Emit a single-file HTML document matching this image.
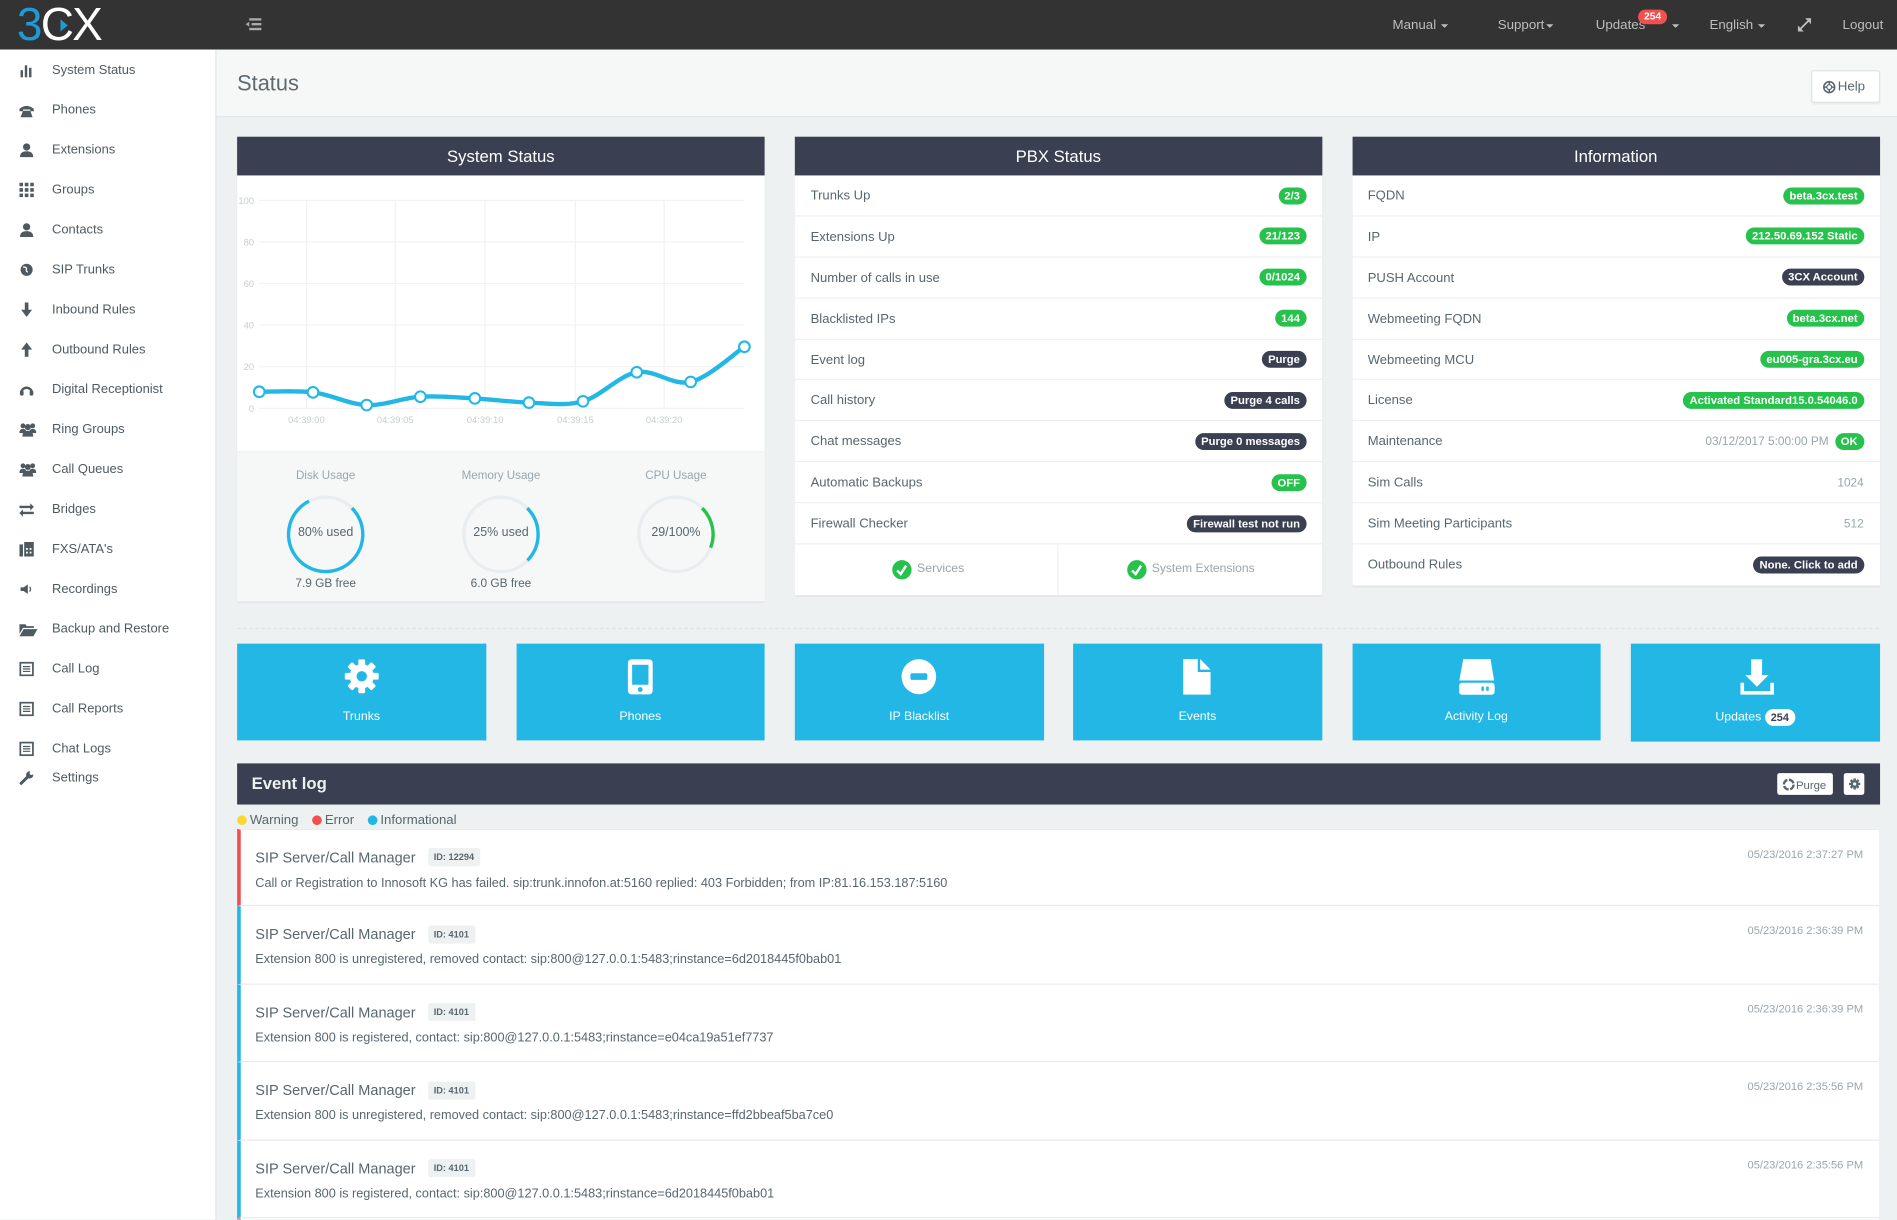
<!DOCTYPE html>
<html><head><meta charset="utf-8"><style>
*{box-sizing:border-box;margin:0;padding:0}
html,body{width:1897px;height:1220px;overflow:hidden;background:#edf1f2;font-family:"Liberation Sans",sans-serif;color:#58666e}
#w{position:absolute;left:0;top:0;width:1568px;height:1008px;transform:scale(1.209821);transform-origin:0 0;background:#edf1f2;overflow:hidden}
.a{position:absolute}
.nav{position:absolute;top:14px;font-size:11px;color:#bdbdbd;line-height:14px;white-space:nowrap}
.caret{display:inline-block;width:0;height:0;border-left:3.5px solid transparent;border-right:3.5px solid transparent;border-top:3.5px solid #bdbdbd;vertical-align:middle;margin-left:4px}
.si{position:absolute;left:43px;font-size:10.7px;color:#4f5a60;line-height:14px;white-space:nowrap}
.ic{position:absolute;left:16px;width:12px;height:12px}
.panel{position:absolute;background:#fff;box-shadow:0 1px 1px rgba(0,0,0,.07)}
.ph{height:32px;background:#3a3f51;color:#fff;font-size:13.8px;text-align:center;line-height:33px}
.row{position:relative;height:33.9px;border-bottom:1px solid #edf1f2;font-size:10.8px;line-height:35px;padding:0 13px;white-space:nowrap}
.bd{position:absolute;right:13px;top:9.5px;height:14px;line-height:14px;border-radius:7px;padding:0 5px;font-weight:bold;font-size:9.3px;color:#fff;background:#27c24c}
.dk{background:#3a3f51}
.gt{position:absolute;right:13px;top:0;font-size:9.8px;color:#98a6ad}
.tile{position:absolute;top:532px;height:80px;background:#23b7e5}
.tl{position:absolute;left:0;right:0;top:586px;text-align:center;color:#fff;font-size:10.2px;line-height:13px}
.ev{position:absolute;left:196px;width:1357px;height:64.5px;background:#fff;border-left:3px solid #23b7e5;border-bottom:1px solid #e6ebed}
.et{position:absolute;left:12px;top:16px;font-size:12px;line-height:14px;color:#58666e;white-space:nowrap}
.id{display:inline-block;margin-left:10px;background:#edf1f2;border-radius:2px;font-size:7.6px;font-weight:bold;padding:0 5px;height:15px;line-height:15px;vertical-align:middle;color:#58666e;position:relative;top:-1px}
.em{position:absolute;left:12px;top:37px;font-size:10.5px;line-height:14px;color:#58666e;white-space:nowrap}
.ed{position:absolute;right:13px;top:13px;font-size:9.2px;line-height:14px;color:#98a6ad}
.gl{position:absolute;font-size:9.6px;color:#98a6ad;text-align:center;width:120px;line-height:12px}
.gv{position:absolute;font-size:10.3px;color:#58666e;text-align:center;width:120px;line-height:12px}
</style></head><body><div id="w">

<!-- top bar -->
<div class="a" style="left:0;top:0;width:1568px;height:41px;background:#333"></div>
<div class="a" style="left:14px;top:2px;font-size:38px;line-height:38px;letter-spacing:-1.5px;white-space:nowrap"><span style="color:#1e9ad6">3</span><span style="color:#fff">CX</span></div>
<svg class="a" style="left:0;top:0" width="100" height="41"><polygon points="50,16 56,21 50,26" fill="#1e9ad6"/></svg>
<svg class="a" style="left:203px;top:15px" width="14" height="11"><rect x="3" y="0" width="10" height="2" fill="#aaa"/><rect x="5" y="4" width="8" height="2" fill="#aaa"/><rect x="3" y="8" width="10" height="2" fill="#aaa"/><polygon points="0,5 3,3 3,7" fill="#aaa"/></svg>
<div class="nav" style="left:1151px">Manual<span class="caret"></span></div>
<div class="nav" style="left:1238px">Support<span class="caret" style="margin-left:1px"></span></div>
<div class="nav" style="left:1319px">Updates</div>
<div class="a" style="left:1354px;top:8px;width:24px;height:11.5px;border-radius:6px;background:#f05050;color:#fff;font-size:8.5px;font-weight:bold;line-height:11.5px;text-align:center">254</div>
<div class="nav" style="left:1378px"><span class="caret"></span></div>
<div class="nav" style="left:1413px">English<span class="caret"></span></div>
<svg class="a" style="left:1486px;top:15px" width="11" height="11"><line x1="1.5" y1="9.5" x2="9.5" y2="1.5" stroke="#bdbdbd" stroke-width="1.5"/><polygon points="6,0 11,0 11,5" fill="#bdbdbd"/><polygon points="0,6 0,11 5,11" fill="#bdbdbd"/></svg>
<div class="nav" style="left:1523px">Logout</div>

<!-- sidebar -->
<div class="a" style="left:0;top:41px;width:179px;height:968px;background:#fff;border-right:1px solid #dee5e7"></div>
<div class="si" style="top:51px">System Status</div>
<svg class="ic" style="top:52px" viewBox="0 0 12 12" fill="#4f5a60"><rect x="1" y="6" width="2" height="6"/><rect x="4.5" y="2" width="2" height="10"/><rect x="8" y="4" width="2" height="8"/></svg>
<div class="si" style="top:84px">Phones</div>
<svg class="ic" style="top:85px" viewBox="0 0 12 12" fill="#4f5a60"><path d="M0 5Q6 0 12 5L12 7L9 7L9 5.5L3 5.5L3 7L0 7Z"/><path d="M3 6.5L9 6.5L11 12L1 12Z"/></svg>
<div class="si" style="top:117px">Extensions</div>
<svg class="ic" style="top:118px" viewBox="0 0 12 12" fill="#4f5a60"><circle cx="6" cy="3.5" r="3"/><path d="M0.5 12Q0.5 7 6 7Q11.5 7 11.5 12Z"/></svg>
<div class="si" style="top:150px">Groups</div>
<svg class="ic" style="top:151px" viewBox="0 0 12 12" fill="#4f5a60"><rect x="0" y="0" width="3" height="3"/><rect x="4.5" y="0" width="3" height="3"/><rect x="9" y="0" width="3" height="3"/><rect x="0" y="4.5" width="3" height="3"/><rect x="4.5" y="4.5" width="3" height="3"/><rect x="9" y="4.5" width="3" height="3"/><rect x="0" y="9" width="3" height="3"/><rect x="4.5" y="9" width="3" height="3"/><rect x="9" y="9" width="3" height="3"/></svg>
<div class="si" style="top:183px">Contacts</div>
<svg class="ic" style="top:184px" viewBox="0 0 12 12" fill="#4f5a60"><circle cx="6" cy="3.5" r="3"/><path d="M0.5 12Q0.5 7 6 7Q11.5 7 11.5 12Z"/></svg>
<div class="si" style="top:216px">SIP Trunks</div>
<svg class="ic" style="top:217px" viewBox="0 0 12 12" fill="#4f5a60"><circle cx="6" cy="6" r="5"/><path d="M3 4Q5 3 6 5Q5 7 7 8" stroke="#fff" stroke-width="1" fill="none"/></svg>
<div class="si" style="top:249px">Inbound Rules</div>
<svg class="ic" style="top:250px" viewBox="0 0 12 12" fill="#4f5a60"><path d="M4.5 0H7.5V6H10.5L6 12L1.5 6H4.5Z"/></svg>
<div class="si" style="top:282px">Outbound Rules</div>
<svg class="ic" style="top:283px" viewBox="0 0 12 12" fill="#4f5a60"><path d="M4.5 12H7.5V6H10.5L6 0L1.5 6H4.5Z"/></svg>
<div class="si" style="top:315px">Digital Receptionist</div>
<svg class="ic" style="top:316px" viewBox="0 0 12 12" fill="#4f5a60"><path d="M1.5 9A4.5 4.5 0 0 1 10.5 9" stroke="#4f5a60" stroke-width="2" fill="none"/><rect x="0.5" y="7" width="3" height="4" rx="1"/><rect x="8.5" y="7" width="3" height="4" rx="1"/></svg>
<div class="si" style="top:348px">Ring Groups</div>
<svg class="ic" style="top:349px;width:14px" viewBox="0 0 14 12" fill="#4f5a60"><circle cx="3" cy="3" r="2"/><circle cx="11" cy="3" r="2"/><circle cx="7" cy="4" r="2.5"/><path d="M0 9Q0 5.5 3 5.5Q6 5.5 6 9Z M8 9Q8 5.5 11 5.5Q14 5.5 14 9Z"/><path d="M2.5 12Q2.5 7 7 7Q11.5 7 11.5 12Z"/></svg>
<div class="si" style="top:381px">Call Queues</div>
<svg class="ic" style="top:382px;width:14px" viewBox="0 0 14 12" fill="#4f5a60"><circle cx="3" cy="3" r="2"/><circle cx="11" cy="3" r="2"/><circle cx="7" cy="4" r="2.5"/><path d="M0 9Q0 5.5 3 5.5Q6 5.5 6 9Z M8 9Q8 5.5 11 5.5Q14 5.5 14 9Z"/><path d="M2.5 12Q2.5 7 7 7Q11.5 7 11.5 12Z"/></svg>
<div class="si" style="top:414px">Bridges</div>
<svg class="ic" style="top:415px" viewBox="0 0 12 12" fill="#4f5a60"><path d="M0 3H9V1L12 4L9 7V5H0Z"/><path d="M12 8H3V6L0 9L3 12V10H12Z"/></svg>
<div class="si" style="top:447px">FXS/ATA's</div>
<svg class="ic" style="top:448px" viewBox="0 0 12 12" fill="#4f5a60"><rect x="0" y="2" width="3" height="10"/><rect x="4" y="0" width="8" height="12"/><rect x="5.5" y="5" width="1.5" height="1.5" fill="#fff"/><rect x="8.5" y="5" width="1.5" height="1.5" fill="#fff"/><rect x="5.5" y="8" width="1.5" height="1.5" fill="#fff"/><rect x="8.5" y="8" width="1.5" height="1.5" fill="#fff"/></svg>
<div class="si" style="top:480px">Recordings</div>
<svg class="ic" style="top:481px" viewBox="0 0 12 12" fill="#4f5a60"><path d="M1 4.5H3.5L7 2V10L3.5 7.5H1Z"/><path d="M8.5 4Q10 6 8.5 8" stroke="#4f5a60" fill="none"/></svg>
<div class="si" style="top:513px">Backup and Restore</div>
<svg class="ic" style="top:514px;width:15px" viewBox="0 0 15 12" fill="#4f5a60"><path d="M0 2H5L6 3.5H12V5H3L0 10Z"/><path d="M3.5 6H15L11.5 12H0Z"/></svg>
<div class="si" style="top:546px">Call Log</div>
<svg class="ic" style="top:547px" viewBox="0 0 12 12"><rect x="0.75" y="0.75" width="10.5" height="10.5" fill="none" stroke="#4f5a60" stroke-width="1.5"/><path d="M3 4H9M3 6H9M3 8H9" stroke="#4f5a60" stroke-width="1"/></svg>
<div class="si" style="top:579px">Call Reports</div>
<svg class="ic" style="top:580px" viewBox="0 0 12 12"><rect x="0.75" y="0.75" width="10.5" height="10.5" fill="none" stroke="#4f5a60" stroke-width="1.5"/><path d="M3 4H9M3 6H9M3 8H9" stroke="#4f5a60" stroke-width="1"/></svg>
<div class="si" style="top:612px">Chat Logs</div>
<svg class="ic" style="top:613px" viewBox="0 0 12 12"><rect x="0.75" y="0.75" width="10.5" height="10.5" fill="none" stroke="#4f5a60" stroke-width="1.5"/><path d="M3 4H9M3 6H9M3 8H9" stroke="#4f5a60" stroke-width="1"/></svg>
<div class="si" style="top:636px">Settings</div>
<svg class="ic" style="top:637px" viewBox="0 0 12 12"><path d="M1.5 10.5L7 5" stroke="#4f5a60" stroke-width="2.5" stroke-linecap="round"/><circle cx="8.5" cy="3.5" r="3" fill="#4f5a60"/><circle cx="10" cy="2" r="1.5" fill="#fff"/></svg>

<!-- page header -->
<div class="a" style="left:179px;top:41px;width:1389px;height:55.5px;background:#f6f8f8;border-bottom:1px solid #dee5e7"></div>
<div class="a" style="left:196px;top:58px;font-size:18px;line-height:22px;color:#5e6a70">Status</div>
<div class="a" style="left:1496.5px;top:58px;width:57px;height:27px;background:#fff;border:1px solid #dee5e7;border-radius:2px;box-shadow:0 1px 1px rgba(0,0,0,.05)"></div>
<svg class="a" style="left:1506px;top:66px" width="12" height="12"><circle cx="6" cy="6" r="4.5" fill="none" stroke="#58666e" stroke-width="1.3"/><circle cx="6" cy="6" r="2" fill="none" stroke="#58666e" stroke-width="1"/><path d="M6 1.5V4M6 8V10.5M1.5 6H4M8 6H10.5" stroke="#58666e" stroke-width="1.2"/></svg>
<div class="a" style="left:1519px;top:66px;font-size:11px;line-height:13px;color:#58666e">Help</div>

<!-- System Status panel -->
<div class="panel" style="left:196px;top:113px;width:436px;height:384px">
  <div class="ph">System Status</div>
  <div class="a" style="left:0;top:259.5px;width:436px;height:124.5px;background:#f6f8f8;border-top:1px solid #edf1f2"></div>
</div>
<svg class="a" style="left:196px;top:145px" width="436" height="227" viewBox="196 145 436 227">
  <g stroke="#f0f2f3" stroke-width="1">
    <line x1="214" y1="165.6" x2="615.5" y2="165.6"/><line x1="214" y1="200" x2="615.5" y2="200"/><line x1="214" y1="234.4" x2="615.5" y2="234.4"/><line x1="214" y1="268.7" x2="615.5" y2="268.7"/><line x1="214" y1="303.1" x2="615.5" y2="303.1"/><line x1="214" y1="337.5" x2="615.5" y2="337.5"/>
    <line x1="253.3" y1="165.6" x2="253.3" y2="337.5"/><line x1="326.7" y1="165.6" x2="326.7" y2="337.5"/><line x1="401" y1="165.6" x2="401" y2="337.5"/><line x1="475.6" y1="165.6" x2="475.6" y2="337.5"/><line x1="549" y1="165.6" x2="549" y2="337.5"/>
  </g>
  <g font-family="Liberation Sans, sans-serif" font-size="7.8" fill="#c6cdd0" text-anchor="end">
    <text x="210" y="168.5">100</text><text x="210" y="202.9">80</text><text x="210" y="237.3">60</text><text x="210" y="271.6">40</text><text x="210" y="306">20</text><text x="210" y="340.4">0</text>
  </g>
  <g font-family="Liberation Sans, sans-serif" font-size="7.8" fill="#c6cdd0" text-anchor="middle">
    <text x="253.3" y="349.5">04:39:00</text><text x="326.7" y="349.5">04:39:05</text><text x="401" y="349.5">04:39:10</text><text x="475.6" y="349.5">04:39:15</text><text x="549" y="349.5">04:39:20</text>
  </g>
  <path d="M214.3 323.8C221.7 323.9 243.9 322.5 258.7 324.3C273.5 326.1 288.3 334.2 303.1 334.8C317.9 335.4 332.6 328.8 347.5 327.9C362.4 327 377.5 328.5 392.5 329.3C407.5 330.1 422.3 332.4 437.2 332.8C452.1 333.2 467 335.9 481.9 331.7C496.8 327.5 511.5 310.4 526.3 307.7C541.1 305 556.1 319.2 570.9 315.7C585.7 312.2 607.9 291.5 615.3 286.6" fill="none" stroke="#23b7e5" stroke-width="3.6" stroke-linejoin="round"/>
  <g fill="#fff" stroke="#23b7e5" stroke-width="1.7">
    <circle cx="214.3" cy="323.8" r="4.4"/><circle cx="258.7" cy="324.3" r="4.4"/><circle cx="303.1" cy="334.8" r="4.4"/><circle cx="347.5" cy="327.9" r="4.4"/><circle cx="392.5" cy="329.3" r="4.4"/><circle cx="437.2" cy="332.8" r="4.4"/><circle cx="481.9" cy="331.7" r="4.4"/><circle cx="526.3" cy="307.7" r="4.4"/><circle cx="570.9" cy="315.7" r="4.4"/><circle cx="615.3" cy="286.6" r="4.4"/>
  </g>
</svg>
<svg class="a" style="left:196px;top:373px" width="436" height="124" viewBox="196 373 436 124">
  <g fill="none" stroke="#e8eef0" stroke-width="2.8">
    <circle cx="269.2" cy="441.7" r="30.7"/><circle cx="414.1" cy="441.7" r="30.7"/><circle cx="558.7" cy="441.7" r="30.7"/>
  </g>
  <path d="M290.9 420 A30.7 30.7 0 1 1 255.45 414.25" fill="none" stroke="#23b7e5" stroke-width="2.8"/>
  <path d="M435.8 420 A30.7 30.7 0 0 1 436 463.2" fill="none" stroke="#23b7e5" stroke-width="2.8"/>
  <path d="M580.4 420 A30.7 30.7 0 0 1 587.4 452.7" fill="none" stroke="#27c24c" stroke-width="2.8"/>
</svg>
<div class="gl" style="left:209.2px;top:388px">Disk Usage</div>
<div class="gl" style="left:354.1px;top:388px">Memory Usage</div>
<div class="gl" style="left:498.7px;top:388px">CPU Usage</div>
<div class="gv" style="left:209.2px;top:435px">80% used</div>
<div class="gv" style="left:354.1px;top:435px">25% used</div>
<div class="gv" style="left:498.7px;top:435px">29/100%</div>
<div class="gv" style="left:209.2px;top:477px;font-size:9.8px">7.9 GB free</div>
<div class="gv" style="left:354.1px;top:477px;font-size:9.8px">6.0 GB free</div>

<!-- PBX Status panel -->
<div class="panel" style="left:657px;top:113px;width:435.5px;height:378.5px">
  <div class="ph">PBX Status</div>
  <div class="row">Trunks Up<span class="bd">2/3</span></div>
  <div class="row">Extensions Up<span class="bd">21/123</span></div>
  <div class="row">Number of calls in use<span class="bd">0/1024</span></div>
  <div class="row">Blacklisted IPs<span class="bd">144</span></div>
  <div class="row">Event log<span class="bd dk">Purge</span></div>
  <div class="row">Call history<span class="bd dk">Purge 4 calls</span></div>
  <div class="row">Chat messages<span class="bd dk">Purge 0 messages</span></div>
  <div class="row">Automatic Backups<span class="bd">OFF</span></div>
  <div class="row">Firewall Checker<span class="bd dk">Firewall test not run</span></div>
  <div class="a" style="left:216.5px;top:337px;width:1px;height:41.5px;background:#edf1f2"></div>
</div>
<svg class="a" style="left:736px;top:462px" width="220" height="18">
  <circle cx="9.5" cy="9" r="8" fill="#27c24c"/><path d="M5.5 9.5L8.5 12.5L13 5.5" stroke="#fff" stroke-width="2" fill="none"/>
  <circle cx="203.7" cy="9" r="8" fill="#27c24c"/><path d="M199.7 9.5L202.7 12.5L207.2 5.5" stroke="#fff" stroke-width="2" fill="none"/>
</svg>
<div class="a" style="left:758px;top:464px;font-size:10.2px;line-height:13px;color:#98a6ad">Services</div>
<div class="a" style="left:952px;top:464px;font-size:10px;line-height:13px;color:#98a6ad">System Extensions</div>

<!-- Information panel -->
<div class="panel" style="left:1117.5px;top:113px;width:436px;height:371px">
  <div class="ph">Information</div>
  <div class="row">FQDN<span class="bd">beta.3cx.test</span></div>
  <div class="row">IP<span class="bd">212.50.69.152 Static</span></div>
  <div class="row">PUSH Account<span class="bd dk">3CX Account</span></div>
  <div class="row">Webmeeting FQDN<span class="bd">beta.3cx.net</span></div>
  <div class="row">Webmeeting MCU<span class="bd">eu005-gra.3cx.eu</span></div>
  <div class="row">License<span class="bd">Activated Standard15.0.54046.0</span></div>
  <div class="row">Maintenance<span class="gt" style="right:42px">03/12/2017 5:00:00 PM</span><span class="bd">OK</span></div>
  <div class="row">Sim Calls<span class="gt">1024</span></div>
  <div class="row">Sim Meeting Participants<span class="gt">512</span></div>
  <div class="row" style="border-bottom:none">Outbound Rules<span class="bd dk">None. Click to add</span></div>
</div>

<!-- dashed separator -->
<div class="a" style="left:196px;top:519px;width:1357px;height:0;border-top:1px dashed #dce3e5"></div>

<!-- tiles -->
<div class="tile" style="left:196px;width:205.5px"><div class="tl" style="top:54px">Trunks</div></div>
<div class="tile" style="left:426.5px;width:205.5px"><div class="tl" style="top:54px">Phones</div></div>
<div class="tile" style="left:657px;width:205.5px"><div class="tl" style="top:54px">IP Blacklist</div></div>
<div class="tile" style="left:887px;width:205.5px"><div class="tl" style="top:54px">Events</div></div>
<div class="tile" style="left:1117.5px;width:205.5px"><div class="tl" style="top:54px">Activity Log</div></div>
<div class="tile" style="left:1348px;width:205.5px;height:80.5px"><div class="tl" style="top:54px">Updates <span style="display:inline-block;background:#fff;color:#3a3f51;font-weight:bold;font-size:9px;border-radius:7px;padding:0 5px;height:14px;line-height:14px;vertical-align:middle">254</span></div></div>
<svg class="a" style="left:196px;top:532px" width="1358" height="80" viewBox="196 532 1358 80">
  <g fill="#fff">
    <g transform="translate(299,559)">
      <circle r="10"/>
      <rect x="-2.8" y="-14" width="5.6" height="28" rx="1"/>
      <rect x="-2.8" y="-14" width="5.6" height="28" rx="1" transform="rotate(45)"/>
      <rect x="-2.8" y="-14" width="5.6" height="28" rx="1" transform="rotate(90)"/>
      <rect x="-2.8" y="-14" width="5.6" height="28" rx="1" transform="rotate(135)"/>
      <circle r="4.3" fill="#23b7e5"/>
    </g>
    <rect x="519" y="545" width="20.5" height="29" rx="3"/>
    <rect x="522.5" y="549.5" width="13.5" height="16.5" fill="#23b7e5"/>
    <circle cx="529.2" cy="570" r="2" fill="#23b7e5"/>
    <ellipse cx="759.5" cy="559.3" rx="14.3" ry="14.5"/>
    <rect x="752.5" y="556.5" width="14" height="5.5" rx="1.5" fill="#23b7e5"/>
    <path d="M978 544.7H990V555.5H1000.6V574.2H978Z"/>
    <path d="M992 544.7L1000.6 553.5H992Z"/>
    <path d="M1209.5 544.7H1232L1235 562.5H1206.2Z"/>
    <rect x="1206" y="564.3" width="29.4" height="10" rx="2.5"/>
    <rect x="1224.5" y="567.5" width="2" height="3.5" fill="#23b7e5"/>
    <rect x="1228.5" y="567.5" width="2" height="3.5" fill="#23b7e5"/>
    <rect x="1447.5" y="545" width="9" height="13.5"/>
    <path d="M1442.6 558H1461.8L1452.2 567.6Z"/>
    <path d="M1438.6 564.3H1441.6V571.2H1463.3V564.3H1466.3V574.2H1438.6Z"/>
  </g>
</svg>

<!-- Event log -->
<div class="a" style="left:196px;top:630.5px;width:1357.5px;height:34.5px;background:#3a3f51"></div>
<div class="a" style="left:208px;top:639px;font-size:13.8px;font-weight:bold;line-height:17px;color:#eef1f2">Event log</div>
<div class="a" style="left:1468.8px;top:639.2px;width:46px;height:17.7px;background:#fff;border-radius:2px"></div>
<svg class="a" style="left:1473px;top:642.5px" width="11" height="11"><circle cx="5.5" cy="5.5" r="4" fill="none" stroke="#58666e" stroke-width="2" stroke-dasharray="5 1.3"/></svg>
<div class="a" style="left:1484.5px;top:641.5px;font-size:9.4px;line-height:13px;color:#58666e">Purge</div>
<div class="a" style="left:1523.6px;top:639.2px;width:17.7px;height:17.7px;background:#fff;border-radius:2px"></div>
<svg class="a" style="left:1527.5px;top:643px" width="10" height="10" viewBox="-5 -5 10 10"><g fill="#58666e"><circle r="3.2"/><rect x="-1" y="-4.6" width="2" height="9.2"/><rect x="-1" y="-4.6" width="2" height="9.2" transform="rotate(45)"/><rect x="-1" y="-4.6" width="2" height="9.2" transform="rotate(90)"/><rect x="-1" y="-4.6" width="2" height="9.2" transform="rotate(135)"/><circle r="1.3" fill="#fff"/></g></svg>

<div class="a" style="left:196px;top:673.8px;width:8px;height:8px;border-radius:4px;background:#fad733"></div>
<div class="a" style="left:206.5px;top:671px;font-size:10.9px;line-height:14px;color:#58666e">Warning</div>
<div class="a" style="left:257.8px;top:673.8px;width:8px;height:8px;border-radius:4px;background:#f05050"></div>
<div class="a" style="left:268.5px;top:671px;font-size:10.9px;line-height:14px;color:#58666e">Error</div>
<div class="a" style="left:304px;top:673.8px;width:8px;height:8px;border-radius:4px;background:#23b7e5"></div>
<div class="a" style="left:314.4px;top:671px;font-size:10.9px;line-height:14px;color:#58666e">Informational</div>

<div class="ev" style="top:684.7px;border-left-color:#f05050;border-top:1px solid #e6ebed">
  <div class="et">SIP Server/Call Manager<span class="id">ID: 12294</span></div>
  <div class="em">Call or Registration to Innosoft KG has failed. sip:trunk.innofon.at:5160 replied: 403 Forbidden; from IP:81.16.153.187:5160</div>
  <div class="ed">05/23/2016 2:37:27 PM</div>
</div>
<div class="ev" style="top:749.2px">
  <div class="et">SIP Server/Call Manager<span class="id">ID: 4101</span></div>
  <div class="em">Extension 800 is unregistered, removed contact: sip:800@127.0.0.1:5483;rinstance=6d2018445f0bab01</div>
  <div class="ed">05/23/2016 2:36:39 PM</div>
</div>
<div class="ev" style="top:813.7px">
  <div class="et">SIP Server/Call Manager<span class="id">ID: 4101</span></div>
  <div class="em">Extension 800 is registered, contact: sip:800@127.0.0.1:5483;rinstance=e04ca19a51ef7737</div>
  <div class="ed">05/23/2016 2:36:39 PM</div>
</div>
<div class="ev" style="top:878.2px">
  <div class="et">SIP Server/Call Manager<span class="id">ID: 4101</span></div>
  <div class="em">Extension 800 is unregistered, removed contact: sip:800@127.0.0.1:5483;rinstance=ffd2bbeaf5ba7ce0</div>
  <div class="ed">05/23/2016 2:35:56 PM</div>
</div>
<div class="ev" style="top:942.7px">
  <div class="et">SIP Server/Call Manager<span class="id">ID: 4101</span></div>
  <div class="em">Extension 800 is registered, contact: sip:800@127.0.0.1:5483;rinstance=6d2018445f0bab01</div>
  <div class="ed">05/23/2016 2:35:56 PM</div>
</div>
<div class="ev" style="top:1006.5px;height:2px;border-bottom:none;border-left-color:#f05050"></div>

</div></body></html>
